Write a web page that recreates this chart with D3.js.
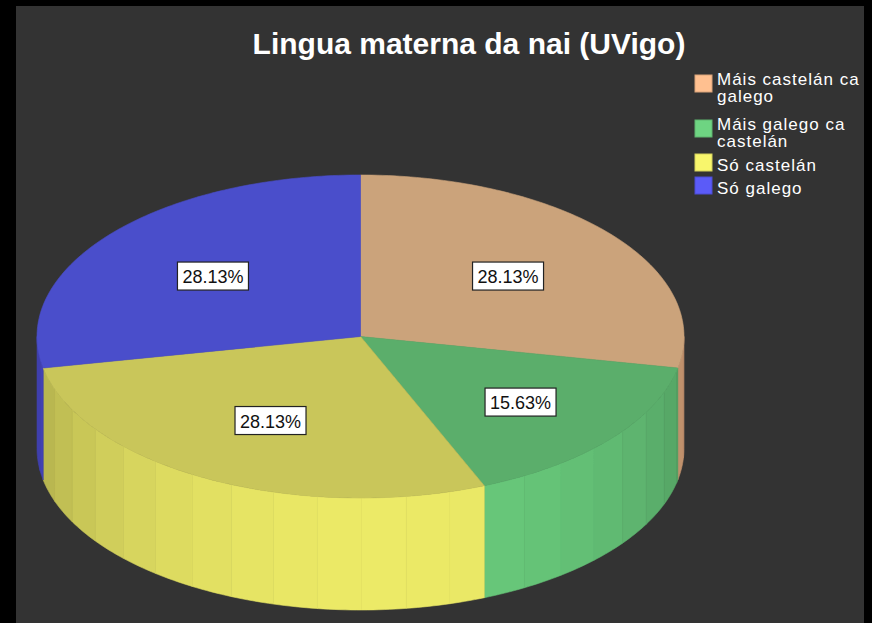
<!DOCTYPE html>
<html>
<head>
<meta charset="utf-8">
<script src="https://cdn.jsdelivr.net/npm/d3@7"></script>
<style>
  body { margin: 0; background: #000; }
  svg { display: block; }
</style>
</head>
<body>
<div class="chart"></div>
<script>
// chart data
const categories = ['Máis castelán ca galego', 'Máis galego ca castelán', 'Só castelán', 'Só galego'];
const legendLines = [['Máis castelán ca', 'galego'], ['Máis galego ca', 'castelán'], ['Só castelán'], ['Só galego']];
const values = [28.13, 15.63, 28.13, 28.13];
const colors = ['#ffc090', '#6ed482', '#f8f66c', '#5b5bf8'];
const topColors = ['#cba37b', '#5bae6b', '#c9c65a', '#4a4ecb'];

const width = 872;
const height = 623;

const svg = d3.select('.chart')
    .append('svg')
    .attr('width', width)
    .attr('height', height);

// dark panel
svg.append('rect')
    .attr('x', 16).attr('y', 6)
    .attr('width', 848).attr('height', 617)
    .attr('fill', '#333333');

// title
svg.append('text')
    .text('Lingua materna da nai (UVigo)')
    .attr('x', 469)
    .attr('y', 54)
    .attr('text-anchor', 'middle')
    .attr('font-family', 'Liberation Sans, Arial, sans-serif')
    .attr('font-weight', 'bold')
    .attr('font-size', 30)
    .attr('fill', '#ffffff');

// pie geometry (ellipse projected)
const cx = 360.5, cy = 336.5, rx = 323.5, ry = 161.5, depth = 112;
const x = d3.scaleLinear().domain([-1, 1]).range([cx - rx, cx + rx]);
const y = d3.scaleLinear().domain([-1, 1]).range([cy - ry, cy + ry]);

const pie = d3.pie().sort(null).value(d => d)(values);

const deg = Math.PI / 180;
const px = a => x(Math.sin(a));
const py = a => y(-Math.cos(a));
const line = d3.line();

function arcPoints(a0, a1, dy) {
    const n = Math.max(2, Math.ceil((a1 - a0) / deg) + 1);
    return d3.range(n).map(i => {
        const a = a0 + (a1 - a0) * i / (n - 1);
        return [px(a), py(a) + dy];
    });
}

function scaleColor(c, f) {
    const r = d3.rgb(c);
    return d3.rgb(r.r * f, r.g * f, r.b * f).formatHex();
}

// side strips, only the front half is seen
const step = 7.9 * deg;
const sides = [];
pie.forEach((p, i) => {
    const a0 = Math.max(p.startAngle, 90 * deg);
    const a1 = Math.min(p.endAngle, 270 * deg);
    if (a1 <= a0) return;
    for (let s = a1; s > a0 + 1e-6; s -= step) {
        const lo = Math.max(a0, s - step);
        const mid = (lo + s) / 2;
        const f = 0.70 + 0.25 * Math.cos(mid - 175 * deg);
        sides.push({ i: i, a0: lo, a1: s, color: scaleColor(colors[i], f) });
    }
});

svg.selectAll('path.side')
    .data(sides)
    .enter()
    .append('path')
    .attr('class', 'side')
    .attr('d', d => {
        const top = arcPoints(d.a0, d.a1, 0);
        const bottom = arcPoints(d.a0, d.a1, depth).reverse();
        return line(top.concat(bottom)) + 'Z';
    })
    .attr('fill', d => d.color)
    .attr('stroke', d => d.color)
    .attr('stroke-width', 0.6);

// top slices
svg.selectAll('path.top')
    .data(pie)
    .enter()
    .append('path')
    .attr('class', 'top')
    .attr('d', d => line([[cx, cy]].concat(arcPoints(d.startAngle, d.endAngle, 0))) + 'Z')
    .attr('fill', (d, i) => topColors[i])
    .attr('stroke', (d, i) => topColors[i])
    .attr('stroke-width', 0.6);

// value labels
const labels = svg.selectAll('g.label')
    .data(pie)
    .enter()
    .append('g')
    .attr('class', 'label')
    .attr('transform', d => {
        const a = (d.startAngle + d.endAngle) / 2;
        const k = d.data < 20 ? 0.64 : 0.59;
        return 'translate(' + x(Math.sin(a) * k) + ',' + y(-Math.cos(a) * k) + ')';
    });

labels.append('rect')
    .attr('x', -35.5).attr('y', -14)
    .attr('width', 71).attr('height', 28)
    .attr('fill', '#ffffff')
    .attr('stroke', '#222222')
    .attr('stroke-width', 1.2);

labels.append('text')
    .text(d => d.data.toFixed(2) + '%')
    .attr('text-anchor', 'middle')
    .attr('y', 7)
    .attr('font-family', 'Liberation Sans, Arial, sans-serif')
    .attr('font-size', 18)
    .attr('fill', '#111111');

// legend
const legendY = [75, 120, 154, 177];
const legend = svg.selectAll('g.legend')
    .data(categories)
    .enter()
    .append('g')
    .attr('class', 'legend')
    .attr('transform', (d, i) => 'translate(695,' + legendY[i] + ')');

legend.append('rect')
    .attr('width', 17).attr('height', 17)
    .attr('fill', (d, i) => colors[i])
    .attr('stroke', (d, i) => scaleColor(colors[i], 0.85))
    .attr('stroke-width', 1);

legend.append('text')
    .attr('font-family', 'Liberation Sans, Arial, sans-serif')
    .attr('font-size', 17)
    .attr('letter-spacing', 1)
    .attr('fill', '#ffffff')
    .selectAll('tspan')
    .data((d, i) => legendLines[i].map(t => ({ t: t, n: legendLines[i].length })))
    .enter()
    .append('tspan')
    .attr('x', 22)
    .attr('y', (d, j) => (d.n > 1 ? 10 : 17) + 17 * j)
    .text(d => d.t);
</script>
</body>
</html>
